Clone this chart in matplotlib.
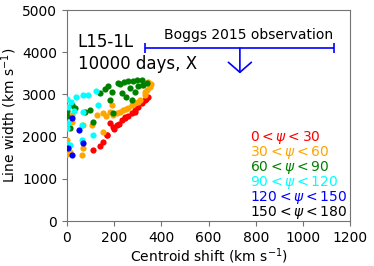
import matplotlib
matplotlib.use("Agg")
import matplotlib.pyplot as plt

# centroid shift / line width per viewing-angle bin (km/s)
red_x = [345, 331, 317, 288, 274, 246, 232, 211, 196, 182, 168, 154, 112, 288, 246,
         300, 320, 335, 260, 220, 200, 170, 140]
red_y = [2946, 2867, 2788, 2630, 2551, 2433, 2393, 2275, 2235, 2314, 2038, 1880, 1682,
         2591, 2472, 2700, 2830, 2900, 2500, 2300, 2180, 2050, 1790]

orange_x = [345, 352, 331, 310, 288, 260, 239, 211, 196, 182, 154, 126, 105, 20, 20, 69,
            0, 13, 62, 69, 154, 189, 317, 0, 0, 225, 250, 275, 300, 330, 340, 355, 165]
orange_y = [3302, 3183, 3065, 2867, 2788, 2670, 2630, 2551, 2512, 2591, 2551, 2512, 2275,
            2512, 2354, 2275, 1919, 1643, 1564, 1722, 2117, 2749, 3223, 2700, 1600,
            2590, 2650, 2750, 2830, 2980, 3100, 3250, 2480]

green_x = [175, 218, 225, 260, 295, 317, 189, 140, 232, 267, 303, 324, 20, 34, 98, 76,
           112, 13, 196, 274, 182, 0, 0, 280, 240, 160, 250, 290, 340]
green_y = [3199, 3278, 3246, 3325, 3341, 3341, 3065, 3025, 3025, 3144, 3199, 3223, 2749,
           2670, 2630, 2591, 2354, 2196, 2551, 2867, 2867, 2600, 2500, 3330, 3300, 3120,
           2940, 3050, 3280]

cyan_x = [66, 123, 19, 6, 133, 69, 62, 6, 62, 13, 112, 0, 0, 0, 0, 40, 90, 30]
cyan_y = [2986, 3088, 2828, 2709, 2749, 2591, 2275, 2314, 1919, 1801, 2038, 1761, 2900,
          2200, 1820, 2950, 2980, 2600]

blue_x = [20, 52, 6, 20, 66]
blue_y = [2433, 2156, 1722, 1564, 1840]

black_x = []
black_y = []

bin_labels = [r"$0 < \psi < 30$", r"$30 < \psi < 60$", r"$60 < \psi < 90$",
              r"$90 < \psi < 120$", r"$120 < \psi < 150$", r"$150 < \psi < 180$"]
bin_colors = ["red", "orange", "green", "cyan", "blue", "black"]

# Boggs 2015 observation: centroid range, line width upper limit
obs_xmin, obs_xmax, obs_xc = 331, 1132, 733
obs_y, obs_arrow_y = 4100, 3500

fig = plt.figure(figsize=(3.74, 2.66), dpi=100)
ax = fig.add_axes([0.179, 0.169, 0.757, 0.793])

series = [(red_x, red_y), (orange_x, orange_y), (green_x, green_y),
          (cyan_x, cyan_y), (blue_x, blue_y), (black_x, black_y)]
for (xs, ys), c in zip(series, bin_colors):
    ax.scatter(xs, ys, s=20, color=c, linewidths=0, zorder=3)

# observation bar + upper-limit arrow
ax.errorbar([obs_xc], [obs_y], xerr=[[obs_xc - obs_xmin], [obs_xmax - obs_xc]],
            fmt="none", ecolor="blue", elinewidth=1.2, capsize=3.5, capthick=1.2)
ax.annotate("", xy=(obs_xc, obs_arrow_y), xytext=(obs_xc, obs_y),
            arrowprops=dict(arrowstyle="->, head_length=0.4, head_width=0.46",
                            color="blue", lw=1.2, mutation_scale=18,
                            shrinkA=0, shrinkB=0))
ax.text(768, 4400, "Boggs 2015 observation", fontsize=10, ha="center", va="center")

ax.text(45, 3980, "L15-1L\n10000 days, X", fontsize=12, ha="left", va="center",
        linespacing=1.25)

y0, dy = 1983, 355
for i, (lab, c) in enumerate(zip(bin_labels, bin_colors)):
    ax.text(776, y0 - i * dy, lab, color=c, fontsize=10, ha="left", va="center")

ax.set_xlim(0, 1200)
ax.set_ylim(0, 5000)
ax.set_xticks(range(0, 1201, 200))
ax.set_yticks(range(0, 5001, 1000))
ax.tick_params(labelsize=10, colors="0.45", labelcolor="black")
for sp in ax.spines.values():
    sp.set_color("0.45")
ax.set_xlabel(r"Centroid shift (km s$^{-1}$)", fontsize=10, labelpad=1)
ax.set_ylabel(r"Line width (km s$^{-1}$)", fontsize=10, labelpad=2)

fig.savefig("out.png", dpi=100)
